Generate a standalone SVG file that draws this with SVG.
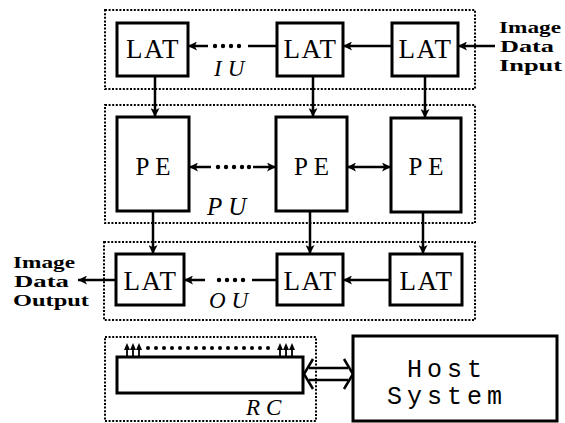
<svg xmlns="http://www.w3.org/2000/svg" width="565" height="423" viewBox="0 0 565 423">
<defs>
<marker id="ah" viewBox="0 0 10 10" refX="10" refY="5" markerWidth="11" markerHeight="9" markerUnits="userSpaceOnUse" orient="auto-start-reverse">
<path d="M0,0 L10,5 L0,10 L2.5,5 z" fill="#000"/>
</marker>
<style>
.grp{fill:none;stroke:#000;stroke-width:2;stroke-dasharray:2 1.6}
.box{fill:#fff;stroke:#000;stroke-width:3}
.ln{fill:none;stroke:#000;stroke-width:2.5}
.dot{fill:#000}
text{font-family:'Liberation Serif','Times New Roman',serif}
.lat{font-size:27px;text-anchor:middle;letter-spacing:1.5px}
.pe{font-size:25px;text-anchor:middle;letter-spacing:6px}
.lbl{font-style:italic;font-size:25px;letter-spacing:6px}
.io{font-weight:bold;font-size:17px}
.host{font-family:'Liberation Mono','Courier New',monospace;font-size:25px;text-anchor:middle;letter-spacing:5px}
</style>
</defs>
<rect width="565" height="423" fill="#fff"/>

<g id="IU">
<rect class="grp" x="105" y="10" width="370" height="79"/>
<text class="lbl" x="214" y="76" style="font-size:23px">IU</text>
</g>
<g id="PU">
<rect class="grp" x="105" y="105" width="370" height="118"/>
<text class="lbl" x="207" y="215">PU</text>
</g>
<g id="OU">
<rect class="grp" x="104" y="242" width="371" height="78"/>
<text class="lbl" x="209" y="308" style="font-size:23px">OU</text>
</g>
<g id="RC">
<rect class="grp" x="105" y="337" width="211" height="84"/>
<rect class="box" x="117" y="357" width="186" height="36"/>
<text class="lbl" x="246" y="415" style="font-size:23px">RC</text>
</g>

<g id="connectors">
<line class="ln" x1="495" y1="46" x2="458" y2="46" marker-end="url(#ah)"/>
<line class="ln" x1="392" y1="46" x2="343" y2="46" marker-end="url(#ah)"/>
<line class="ln" x1="277" y1="46" x2="248" y2="46"/>
<line class="ln" x1="208" y1="46" x2="188" y2="46" marker-end="url(#ah)"/>
<circle class="dot" cx="215" cy="46" r="2.2"/><circle class="dot" cx="223" cy="46" r="2.2"/><circle class="dot" cx="231" cy="46" r="2.2"/><circle class="dot" cx="239" cy="46" r="2.2"/>
<line class="ln" x1="155" y1="76" x2="155" y2="117" marker-end="url(#ah)"/>
<line class="ln" x1="313" y1="76" x2="313" y2="117" marker-end="url(#ah)"/>
<line class="ln" x1="425" y1="76" x2="425" y2="118" marker-end="url(#ah)"/>
<line class="ln" x1="189" y1="167" x2="211" y2="167" marker-start="url(#ah)"/>
<line class="ln" x1="253" y1="167" x2="276" y2="167" marker-end="url(#ah)"/>
<circle class="dot" cx="218" cy="167" r="2.2"/><circle class="dot" cx="226" cy="167" r="2.2"/><circle class="dot" cx="234" cy="167" r="2.2"/><circle class="dot" cx="242" cy="167" r="2.2"/><circle class="dot" cx="249" cy="167" r="2.2"/>
<line class="ln" x1="347" y1="167" x2="391" y2="167" marker-start="url(#ah)" marker-end="url(#ah)"/>
<line class="ln" x1="153" y1="211" x2="153" y2="254" marker-end="url(#ah)"/>
<line class="ln" x1="310" y1="211" x2="310" y2="254" marker-end="url(#ah)"/>
<line class="ln" x1="423" y1="212" x2="423" y2="254" marker-end="url(#ah)"/>
<line class="ln" x1="390" y1="280" x2="343" y2="280" marker-end="url(#ah)"/>
<line class="ln" x1="277" y1="280" x2="252" y2="280"/>
<line class="ln" x1="205" y1="280" x2="184" y2="280" marker-end="url(#ah)"/>
<circle class="dot" cx="219" cy="280" r="2.2"/><circle class="dot" cx="227" cy="280" r="2.2"/><circle class="dot" cx="235" cy="280" r="2.2"/><circle class="dot" cx="243" cy="280" r="2.2"/>
<line class="ln" x1="116" y1="280" x2="78" y2="280" marker-end="url(#ah)"/>
<line class="ln" x1="309" y1="368" x2="348" y2="368"/>
<line class="ln" x1="309" y1="380" x2="348" y2="380"/>
<polyline class="ln" points="313,359 304,374 313,389"/>
<polyline class="ln" points="344,359 353,374 344,389"/>
<path d="M124,350 L127,343 L130,350 z M130,350 L133,343 L136,350 z M136,350 L139,343 L142,350 z M277,350 L280,343 L283,350 z M283,350 L286,343 L289,350 z M289,350 L292,343 L295,350 z" fill="#000"/>
<path d="M127,357 V349 M133,357 V349 M139,357 V349 M280,357 V349 M286,357 V349 M292,357 V349" stroke="#000" stroke-width="1.8"/>
<circle class="dot" cx="148" cy="348" r="2"/><circle class="dot" cx="156" cy="348" r="2"/><circle class="dot" cx="164" cy="348" r="2"/><circle class="dot" cx="172" cy="348" r="2"/><circle class="dot" cx="180" cy="348" r="2"/><circle class="dot" cx="188" cy="348" r="2"/><circle class="dot" cx="196" cy="348" r="2"/><circle class="dot" cx="204" cy="348" r="2"/><circle class="dot" cx="212" cy="348" r="2"/><circle class="dot" cx="220" cy="348" r="2"/><circle class="dot" cx="228" cy="348" r="2"/><circle class="dot" cx="236" cy="348" r="2"/><circle class="dot" cx="244" cy="348" r="2"/><circle class="dot" cx="252" cy="348" r="2"/><circle class="dot" cx="260" cy="348" r="2"/><circle class="dot" cx="268" cy="348" r="2"/>
</g>

<g id="IU-LAT1"><rect class="box" x="117" y="23" width="71" height="53"/><text class="lat" x="153" y="58">LAT</text></g>
<g id="IU-LAT2"><rect class="box" x="277" y="23" width="66" height="53"/><text class="lat" x="310.5" y="58">LAT</text></g>
<g id="IU-LAT3"><rect class="box" x="392" y="23" width="66" height="53"/><text class="lat" x="425.5" y="58">LAT</text></g>

<g id="PE1"><rect class="box" x="117" y="117" width="72" height="94"/><text class="pe" x="156" y="175">PE</text></g>
<g id="PE2"><rect class="box" x="276" y="117" width="71" height="94"/><text class="pe" x="314.5" y="175">PE</text></g>
<g id="PE3"><rect class="box" x="391" y="118" width="70" height="94"/><text class="pe" x="429" y="175">PE</text></g>

<g id="OU-LAT1"><rect class="box" x="116" y="254" width="68" height="51"/><text class="lat" x="150.5" y="290">LAT</text></g>
<g id="OU-LAT2"><rect class="box" x="277" y="254" width="66" height="51"/><text class="lat" x="310.5" y="290">LAT</text></g>
<g id="OU-LAT3"><rect class="box" x="390" y="254" width="72" height="51"/><text class="lat" x="426.5" y="290">LAT</text></g>

<g id="Host"><rect class="box" x="353" y="336" width="204" height="85"/>
<text class="host" x="447" y="377">Host</text>
<text class="host" x="447" y="404">System</text></g>

<g id="input-label">
<text class="io" x="499" y="33" textLength="62" lengthAdjust="spacingAndGlyphs">Image</text>
<text class="io" x="500" y="52" textLength="54" lengthAdjust="spacingAndGlyphs">Data</text>
<text class="io" x="499" y="71" textLength="63" lengthAdjust="spacingAndGlyphs">Input</text>
</g>
<g id="output-label">
<text class="io" x="13" y="268" textLength="62" lengthAdjust="spacingAndGlyphs">Image</text>
<text class="io" x="14" y="287" textLength="55" lengthAdjust="spacingAndGlyphs">Data</text>
<text class="io" x="13" y="306" textLength="76" lengthAdjust="spacingAndGlyphs">Output</text>
</g>
</svg>
